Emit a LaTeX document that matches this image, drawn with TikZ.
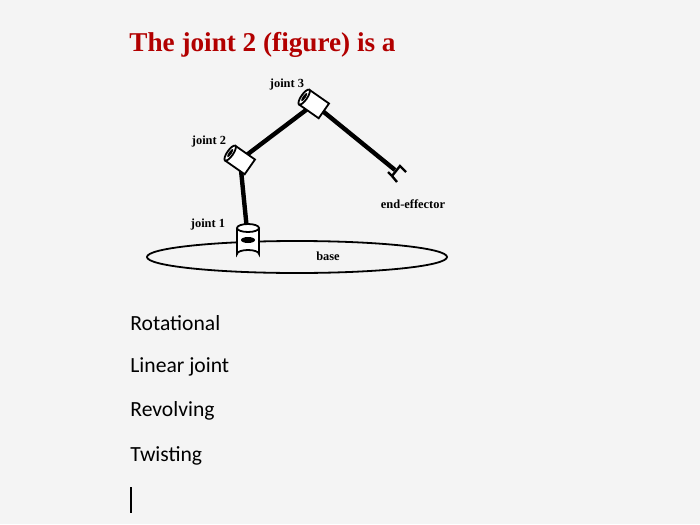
\documentclass[tikz,border=0pt]{standalone}
\usepackage{fontspec}
\setmainfont{Liberation Serif}
\newfontfamily\optfont{Carlito}
\begin{document}
\begin{tikzpicture}[x=0.5pt,y=-0.5pt,
  lbl/.style={font=\fontsize{6.2}{7}\selectfont\bfseries, inner sep=1pt},
  opt/.style={font=\optfont\fontsize{10.8}{12}\selectfont, anchor=west, inner sep=0pt},
  link/.style={line width=2.2pt, black},
  cyl/.style={draw, line width=0.9pt, fill=white}]
\useasboundingbox (0,0) rectangle (700,524);
\fill[gray!9] (0,0) rectangle (700,524);
\node[anchor=west, inner sep=0pt, text=red!70!black, font=\fontsize{13.6}{15}\selectfont\bfseries] (title) at (129,45) {The joint 2 (figure) is a};
% base
\draw[line width=0.9pt] (297,257) ellipse [x radius=150, y radius=16];
\node[lbl] (base) at (328,256) {base};
% joints
\coordinate (j1) at (248,240);
\coordinate (j2) at (240,160);
\coordinate (j3) at (314,104);
\coordinate (ee) at (395,170);
\draw[link] (j1) -- (j2);
\draw[link] (j2) -- (j3);
\draw[link] (j3) -- (ee);
% joint1 cylinder
\draw[cyl] (237,228) -- (237,254) arc[start angle=180,end angle=360,x radius=11,y radius=4] -- (259,228);
\draw[cyl] (248,228) ellipse [x radius=11, y radius=4];
\fill (248,240) ellipse [x radius=7, y radius=3];
% joint2 cylinder (tilted)
\begin{scope}[shift={(240,160)},rotate=-35]
\draw[cyl] (-12,-9) rectangle (12,9);
\draw[cyl] (-12,0) ellipse [x radius=3, y radius=9];
\fill (-12,0) ellipse [x radius=1.5, y radius=5];
\end{scope}
% joint3 cylinder
\begin{scope}[shift={(314,104)},rotate=-35]
\draw[cyl] (-12,-9) rectangle (12,9);
\draw[cyl] (-12,0) ellipse [x radius=3, y radius=9];
\fill (-12,0) ellipse [x radius=1.5, y radius=5];
\end{scope}
% end effector
\draw[line width=1.2pt] (392,176) -- (400,166) -- (406,172);
\draw[line width=1.2pt] (392,176) -- (388,172);
\draw[line width=1.2pt] (392,176) -- (397,182);
\node[lbl] (l3) at (287,85) {joint 3};
\node[lbl] (l2) at (209,142) {joint 2};
\node[lbl] (l1) at (208,225) {joint 1};
\node[lbl] (le) at (413,204) {end-effector};
\node[opt] (o1) at (130,323) {Rotational};
\node[opt] (o2) at (130,367) {Linear joint};
\node[opt] (o3) at (130,411) {Revolving};
\node[opt] (o4) at (130,456) {Twisting};
\coordinate (c1) at (131,487);
\coordinate (c2) at (131,513);
\draw[line width=0.7pt] (c1) -- (c2);
\end{tikzpicture}
\end{document}
